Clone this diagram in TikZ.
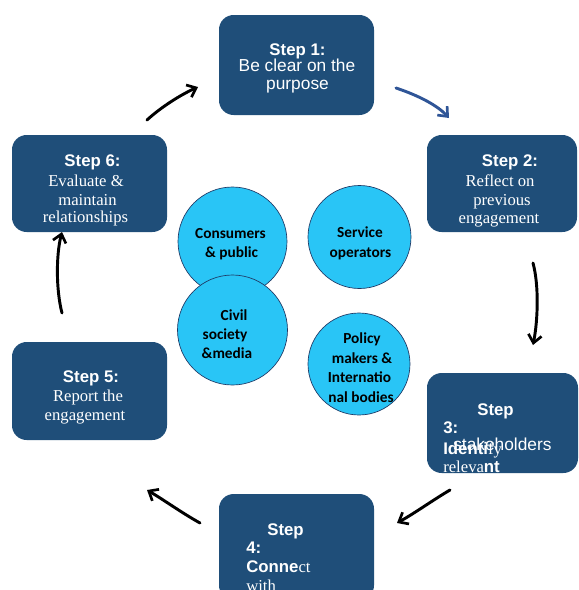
\documentclass[tikz,border=0pt]{standalone}
\usepackage{fontspec}
\setmainfont{Liberation Serif}
\setsansfont{Liberation Sans}
\newfontfamily\calfont{Carlito}
\usetikzlibrary{arrows.meta}
\definecolor{boxblue}{HTML}{1F4E79}
\definecolor{circblue}{HTML}{29C5F6}
\definecolor{arrblue}{HTML}{2F5597}
\definecolor{circline}{HTML}{1F3864}
\begin{document}
\begin{tikzpicture}[x=0.75pt,y=-0.75pt,
 stepbox/.style={fill=boxblue, rounded corners=11pt, inner sep=0pt},
 hdr/.style={font=\sffamily\bfseries\fontsize{12.6}{14}\selectfont, text=white, inner sep=0pt},
 sbody/.style={font=\sffamily\fontsize{13}{15}\selectfont, text=white, inner sep=0pt},
 rbody/.style={font=\rmfamily\fontsize{12.5}{14}\selectfont, text=white, inner sep=0pt},
 grp/.style={circle, fill=circblue, draw=circline, line width=0.5pt, inner sep=0pt},
 gtxt/.style={anchor=base, font=\calfont\bfseries\fontsize{11.5}{13}\selectfont, text=black, inner sep=0pt},
 flow/.style={line width=2.2pt, -{Straight Barb[length=6pt,width=10pt,line width=2pt]}, line cap=round}]
\useasboundingbox (0,0) rectangle (579,590);
\clip (0,0) rectangle (579,590);

% step boxes
\node[stepbox, minimum width=116.25pt, minimum height=75pt] (s1) at (296.5,65) {};
\node[stepbox, minimum width=112.5pt, minimum height=72.75pt] (s2) at (502,183.5) {};
\node[stepbox, minimum width=113.25pt, minimum height=75pt] (s3) at (502.5,423) {};
\node[stepbox, minimum width=116.25pt, minimum height=79.5pt] (s4) at (296.5,547) {};
\node[stepbox, minimum width=116.25pt, minimum height=73.5pt] (s5) at (89.5,391) {};
\node[stepbox, minimum width=116.25pt, minimum height=72.75pt] (s6) at (89.5,183.5) {};

% step 1 text
\node[hdr, anchor=base] (t1a) at (297.5,55) {Step 1:};
\node[sbody, anchor=base] (t1b) at (297,71) {Be clear on the};
\node[sbody, anchor=base] (t1c) at (297.5,89) {purpose};

% step 2 text
\node[hdr, anchor=base] (t2a) at (510,166) {Step 2:};
\node[rbody, anchor=base] (t2b) at (500,186.5) {Reflect on};
\node[rbody, anchor=base] (t2c) at (502,205) {previous};
\node[rbody, anchor=base] (t2d) at (499,223) {engagement};

% step 3 text
\node[hdr, anchor=base] (t3a) at (495.5,415) {Step};
\node[hdr, anchor=base west] (t3b) at (443,433) {3:};
\node[sbody, anchor=base west] (t3c) at (453,450) {stakeholders};
\node[hdr, anchor=base west] (t3d) at (443,454) {Identi{\rmfamily\mdseries\fontsize{12.5}{14}\selectfont fy}};
\node[rbody, anchor=base west] (t3e) at (443,472) {releva{\sffamily\bfseries\fontsize{12.6}{14}\selectfont nt}};

% step 4 text
\node[hdr, anchor=base] (t4a) at (285.5,535) {Step};
\node[hdr, anchor=base west] (t4b) at (246,553) {4:};
\node[hdr, anchor=base west] (t4c) at (246,572) {Conne{\rmfamily\mdseries\fontsize{12.5}{14}\selectfont ct}};
\node[rbody, anchor=base west] (t4d) at (246,591) {with};

% step 5 text
\node[hdr, anchor=base] (t5a) at (91,382) {Step 5:};
\node[rbody, anchor=base] (t5b) at (88,401) {Report the};
\node[rbody, anchor=base] (t5c) at (85,420) {engagement};

% step 6 text
\node[hdr, anchor=base] (t6a) at (92.5,166) {Step 6:};
\node[rbody, anchor=base] (t6b) at (86,186.5) {Evaluate \&};
\node[rbody, anchor=base] (t6c) at (87.5,205) {maintain};
\node[rbody, anchor=base] (t6d) at (85.5,222.5) {relationships};

% stakeholder circles
\node[grp, minimum size=81.75pt] (cons) at (232.5,241.5) {};
\node[grp, minimum size=77.25pt] (serv) at (359.5,237) {};
\node[grp, minimum size=82.5pt] (civ) at (232.5,330) {};
\node[grp, minimum size=76.5pt] (pol) at (359,364) {};

\node[gtxt] (ca) at (230.5,238) {Consumers};
\node[gtxt] (cb) at (231.5,257) {\& public};
\node[gtxt] (sa) at (360,237) {Service};
\node[gtxt] (sb) at (360.5,257) {operators};
\node[gtxt] (va) at (234,320) {Civil};
\node[gtxt] (vb) at (225,339) {society};
\node[gtxt] (vc) at (227,358) {\&media};
\node[gtxt] (pa) at (362,343) {Policy};
\node[gtxt] (pb) at (362,363) {makers \&};
\node[gtxt] (pc) at (359.5,382) {Internatio};
\node[gtxt] (pd) at (361,402) {nal bodies};

% arrow end points
\coordinate (a61) at (147,120);
\coordinate (a61e) at (198,87);
\coordinate (a12) at (396,88);
\coordinate (a12e) at (449,118);
\coordinate (a23) at (533,263);
\coordinate (a23e) at (533,345);
\coordinate (a34) at (450,490);
\coordinate (a34e) at (397,523);
\coordinate (a45) at (200,523);
\coordinate (a45e) at (147,490);
\coordinate (a56) at (62,313);
\coordinate (a56e) at (62,232);

\draw[flow] (a61) .. controls (160,108) and (180,95) .. (a61e);
\draw[flow, draw=arrblue] (a12) .. controls (420,96) and (438,106) .. (a12e);
\draw[flow] (a23) .. controls (539,285) and (538,320) .. (a23e);
\draw[flow] (a34) .. controls (433,500) and (415,513) .. (a34e);
\draw[flow] (a45) .. controls (182,513) and (164,500) .. (a45e);
\draw[flow] (a56) .. controls (56,290) and (56,255) .. (a56e);
\end{tikzpicture}
\end{document}
